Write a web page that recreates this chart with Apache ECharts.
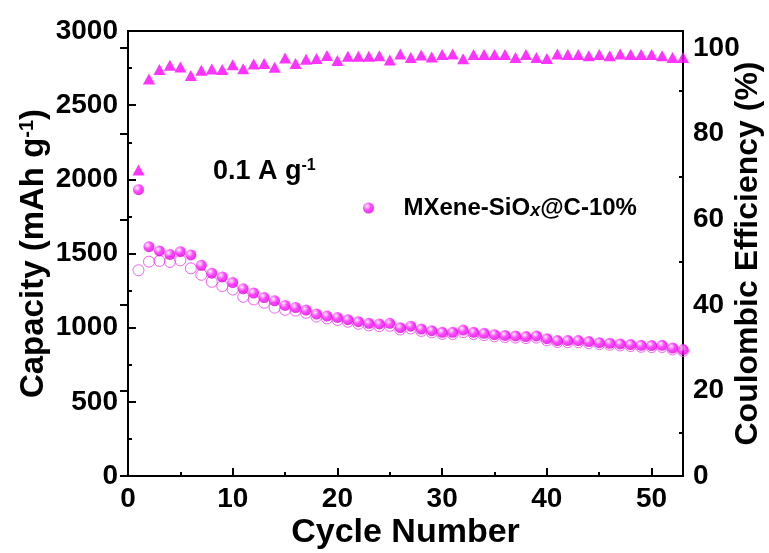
<!DOCTYPE html>
<html>
<head>
<meta charset="utf-8">
<style>
  html, body { margin: 0; padding: 0; background: #fff; }
  #chart { width: 769px; height: 553px; }
</style>
<script src="https://cdn.jsdelivr.net/npm/echarts@6/dist/echarts.min.js"></script>
</head>
<body>
<div id="chart"></div>
<script>
// Cycle index
const cycles = [1, 2, 3, 4, 5, 6, 7, 8, 9, 10, 11, 12, 13, 14, 15, 16, 17, 18, 19, 20,
  21, 22, 23, 24, 25, 26, 27, 28, 29, 30, 31, 32, 33, 34, 35, 36, 37, 38, 39, 40,
  41, 42, 43, 44, 45, 46, 47, 48, 49, 50, 51, 52, 53];

// Discharge capacity (filled spheres), mAh g-1
const dischargeCap = [1930, 1546, 1517, 1494, 1512, 1490, 1420, 1367, 1342, 1304,
  1262, 1233, 1203, 1181, 1150, 1136, 1119, 1092, 1078, 1069,
  1054, 1040, 1029, 1025, 1029, 1000, 1010, 991, 980, 969,
  969, 984, 969, 962, 953, 948, 944, 940, 944, 926,
  913, 913, 913, 906, 899, 895, 890, 886, 881, 879,
  881, 863, 852];

// Charge capacity (open circles), mAh g-1
const chargeCap = [1387, 1445, 1450, 1443, 1454, 1400, 1356, 1309, 1280, 1257,
  1208, 1190, 1168, 1135, 1120, 1115, 1100, 1075, 1062, 1052,
  1040, 1026, 1015, 1010, 1012, 988, 995, 978, 968, 958,
  957, 970, 957, 950, 942, 937, 933, 930, 933, 915,
  903, 902, 902, 896, 889, 885, 880, 876, 871, 869,
  870, 853, 843];

// Coulombic efficiency (triangles), %
const efficiency = [71.5, 92.8, 95.0, 96.0, 95.6, 93.6, 94.8, 95.1, 95.0, 96.1,
  95.2, 96.3, 96.4, 95.5, 97.7, 96.4, 97.4, 97.6, 98.3, 97.1,
  98.1, 98.1, 98.1, 98.2, 97.2, 98.6, 97.8, 98.4, 97.9, 98.5,
  98.6, 97.5, 98.5, 98.5, 98.5, 98.5, 97.8, 98.5, 97.8, 97.6,
  98.6, 98.5, 98.5, 98.2, 98.5, 98.2, 98.6, 98.5, 98.5, 98.5,
  98.2, 97.8, 97.8];

// Tick values
const xMajorTicks = [0, 10, 20, 30, 40, 50];
const xMinorTicks = [5, 15, 25, 35, 45];
const ceMajorTicks = [0, 20, 40, 60, 80, 100];
const ceMinorTicks = [10, 30, 50, 70, 90];

const FONT = '"Liberation Sans", Arial, sans-serif';
const MAGENTA = '#ff00ff';

const pair = (xs, ys) => xs.map((x, i) => [x, ys[i]]);

const sphere = {
  type: 'radial', x: 0.36, y: 0.34, r: 0.7,
  colorStops: [
    { offset: 0, color: '#ffffff' },
    { offset: 0.18, color: '#ffa6ff' },
    { offset: 0.5, color: '#ff1aff' },
    { offset: 1, color: '#d800d8' }
  ]
};

const tickLabel = { fontFamily: FONT, fontWeight: 'bold', fontSize: 28, color: '#000' };
const nameFont = (size) => ({ fontFamily: FONT, fontWeight: 'bold', fontSize: size, color: '#000' });
const blackLine = { lineStyle: { color: '#000', width: 2 } };
const plain = (v) => String(v);

const chart = echarts.init(document.getElementById('chart'), null, { renderer: 'canvas' });

chart.setOption({
  animation: false,
  backgroundColor: '#fff',
  grid: {
    left: 128, right: 86, top: 31, bottom: 77,
    outerBoundsMode: 'none', containLabel: false,
    show: true, borderColor: '#000', borderWidth: 2, backgroundColor: 'transparent'
  },
  xAxis: [
    {
      type: 'value', min: 0, max: 53, position: 'bottom',
      name: 'Cycle Number', nameLocation: 'middle', nameGap: 40, nameMoveOverlap: false,
      nameTextStyle: nameFont(34),
      axisLine: blackLine,
      axisTick: { inside: true, length: 8, lineStyle: { color: '#000', width: 2 }, customValues: xMajorTicks },
      axisLabel: Object.assign({ margin: 9, customValues: xMajorTicks, formatter: plain }, tickLabel),
      splitLine: { show: false }
    },
    {
      type: 'value', min: 0, max: 53, position: 'bottom',
      axisLine: { show: false },
      axisTick: { inside: true, length: 4, lineStyle: { color: '#000', width: 2 }, customValues: xMinorTicks },
      axisLabel: { show: false },
      splitLine: { show: false }
    }
  ],
  yAxis: [
    {
      type: 'value', min: 0, max: 3000, interval: 500, position: 'left',
      name: '{n|Capacity (mAh g}{s|-1}{n|)}', nameLocation: 'middle', nameGap: 78, nameRotate: 90,
      nameMoveOverlap: false,
      nameTextStyle: {
        rich: {
          n: nameFont(33),
          s: { fontFamily: FONT, fontWeight: 'bold', fontSize: 20, color: '#000', verticalAlign: 'top' }
        }
      },
      axisLine: blackLine,
      axisTick: { inside: true, length: 8, lineStyle: { color: '#000', width: 2 } },
      minorTick: { show: true, splitNumber: 2, length: 4, lineStyle: { color: '#000', width: 2 } },
      axisLabel: Object.assign({ margin: 10, formatter: plain }, tickLabel),
      splitLine: { show: false }
    },
    {
      type: 'value', min: 0, max: 104, position: 'right',
      name: 'Coulombic Efficiency (%)', nameLocation: 'middle', nameGap: 49, nameRotate: 90,
      nameMoveOverlap: false,
      nameTextStyle: nameFont(32),
      axisLine: blackLine,
      axisTick: { inside: true, length: 8, lineStyle: { color: '#000', width: 2 }, customValues: ceMajorTicks },
      axisLabel: Object.assign({ margin: 10, customValues: ceMajorTicks, formatter: plain }, tickLabel),
      splitLine: { show: false }
    },
    {
      type: 'value', min: 0, max: 104, position: 'right',
      axisLine: { show: false },
      axisTick: { inside: true, length: 4, lineStyle: { color: '#000', width: 2 }, customValues: ceMinorTicks },
      axisLabel: { show: false },
      splitLine: { show: false }
    }
  ],
  legend: {
    data: ['MXene-SiOx@C-10%'],
    left: 358, top: 191,
    itemWidth: 60, itemHeight: 11,
    formatter: () => '{a|MXene-SiO}{b|x}{a|@C-10%}',
    textStyle: {
      rich: {
        a: { fontFamily: FONT, fontWeight: 'bold', fontSize: 24, color: '#000' },
        b: { fontFamily: FONT, fontWeight: 'bold', fontStyle: 'italic', fontSize: 18, color: '#000', verticalAlign: 'bottom' }
      }
    }
  },
  graphic: [
    {
      type: 'text', left: 213, top: 158,
      style: {
        text: '{a|0.1 A g}{s|-1}',
        rich: {
          a: { fontFamily: FONT, fontWeight: 'bold', fontSize: 27, fill: '#000' },
          s: { fontFamily: FONT, fontWeight: 'bold', fontSize: 16, fill: '#000', verticalAlign: 'top' }
        }
      }
    }
  ],
  series: [
    {
      name: 'Charge', type: 'scatter', xAxisIndex: 0, yAxisIndex: 0,
      symbol: 'circle', symbolSize: 11,
      itemStyle: { color: 'rgba(255,255,255,0)', borderColor: '#f03cf0', borderWidth: 1 },
      data: pair(cycles, chargeCap), z: 2
    },
    {
      name: 'MXene-SiOx@C-10%', type: 'scatter', xAxisIndex: 0, yAxisIndex: 0,
      symbol: 'circle', symbolSize: 11,
      itemStyle: { color: sphere },
      data: pair(cycles, dischargeCap), z: 3
    },
    {
      name: 'CE', type: 'scatter', xAxisIndex: 0, yAxisIndex: 1,
      symbol: 'triangle', symbolSize: [12, 11],
      itemStyle: { color: MAGENTA },
      data: pair(cycles, efficiency), z: 4
    }
  ]
});
</script>
</body>
</html>
